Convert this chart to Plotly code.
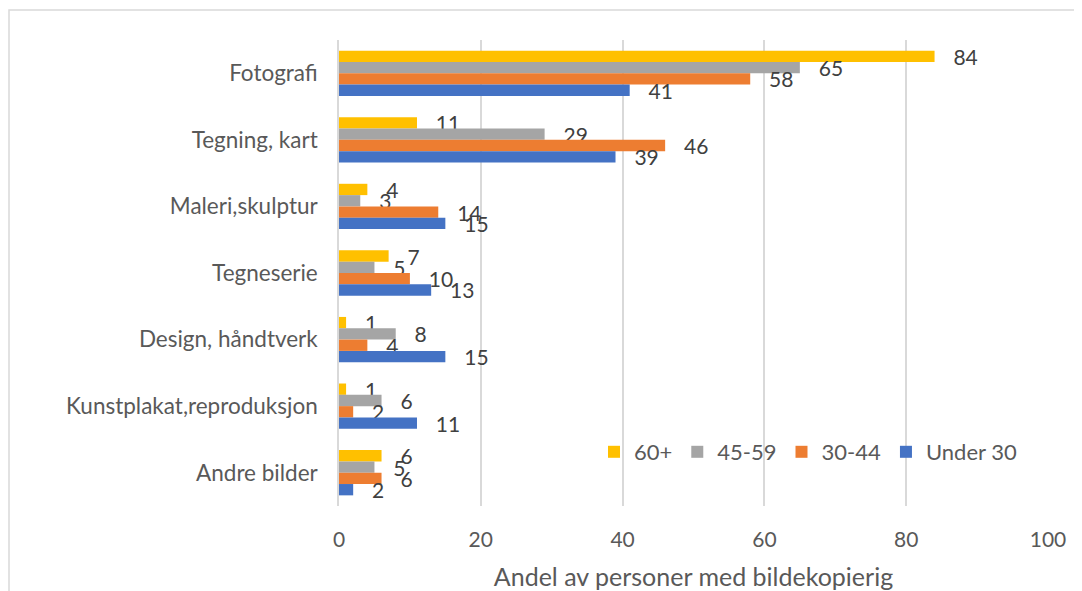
import plotly.graph_objects as go

categories = ["Fotografi", "Tegning, kart", "Maleri,skulptur", "Tegneserie",
              "Design, håndtverk", "Kunstplakat,reproduksjon", "Andre bilder"]
series_names = ["60+", "45-59", "30-44", "Under 30"]
v_60plus = [84, 11, 4, 7, 1, 1, 6]
v_45_59 = [65, 29, 3, 5, 8, 6, 5]
v_30_44 = [58, 46, 14, 10, 4, 2, 6]
v_under30 = [41, 39, 15, 13, 15, 11, 2]
x_ticks = [0, 20, 40, 60, 80, 100]
x_title = "Andel av personer med bildekopierig"

colors = ["#FFC000", "#A5A5A5", "#ED7D31", "#4472C4"]
values = [v_60plus, v_45_59, v_30_44, v_under30]

FONT = "Lato"
OFF = 8  # page body margin
W, H = 1082 - OFF, 591 - OFF
ML, MR, MT, MB = 339 - OFF, 34, 40 - OFF, 85

fig = go.Figure()
for name, vals, col in zip(series_names, values, colors):
    fig.add_trace(go.Bar(
        y=categories, x=vals, name=name, orientation="h",
        marker=dict(color=col, line=dict(width=0)),
        text=["\u2002 " + str(v) for v in vals],
        textposition="outside", cliponaxis=False, constraintext="none",
        textfont=dict(family=FONT, size=21, color="#404040"),
    ))

pw = W - ML - MR
ph = H - MT - MB
fig.update_layout(
    width=W, height=H,
    margin=dict(l=ML, r=MR, t=MT, b=MB),
    barmode="group", bargap=0.32, bargroupgap=0,
    plot_bgcolor="white", paper_bgcolor="white",
    font=dict(family=FONT, color="#595959"),
    showlegend=True,
    legend=dict(orientation="h", x=(594 - 339) / pw, y=(506 - 452) / ph,
                xanchor="left", yanchor="middle",
                font=dict(family=FONT, size=22, color="#595959"),
                bgcolor="rgba(0,0,0,0)", traceorder="normal"),
    xaxis=dict(range=[0, 100], tickvals=x_ticks, showgrid=True,
               gridcolor="#D9D9D9", gridwidth=1.5, zeroline=False,
               showline=False, ticks="", ticklabelstandoff=19,
               automargin=False,
               tickfont=dict(family=FONT, size=21, color="#595959"),
               title=dict(text=x_title, standoff=20,
                          font=dict(family=FONT, size=25, color="#595959"))),
    yaxis=dict(autorange="reversed", showline=True, linecolor="#D9D9D9",
               linewidth=1.5, ticks="", ticklabelstandoff=15,
               automargin=False,
               tickfont=dict(family=FONT, size=22.5, color="#595959")),
    shapes=[dict(type="rect", xref="paper", yref="paper",
                 x0=(9 - 339) / pw, x1=1.2, y0=-0.5, y1=1 + (40 - 10) / ph,
                 line=dict(color="#D9D9D9", width=1.5), layer="below")],
)

fig.write_html("out.html")
